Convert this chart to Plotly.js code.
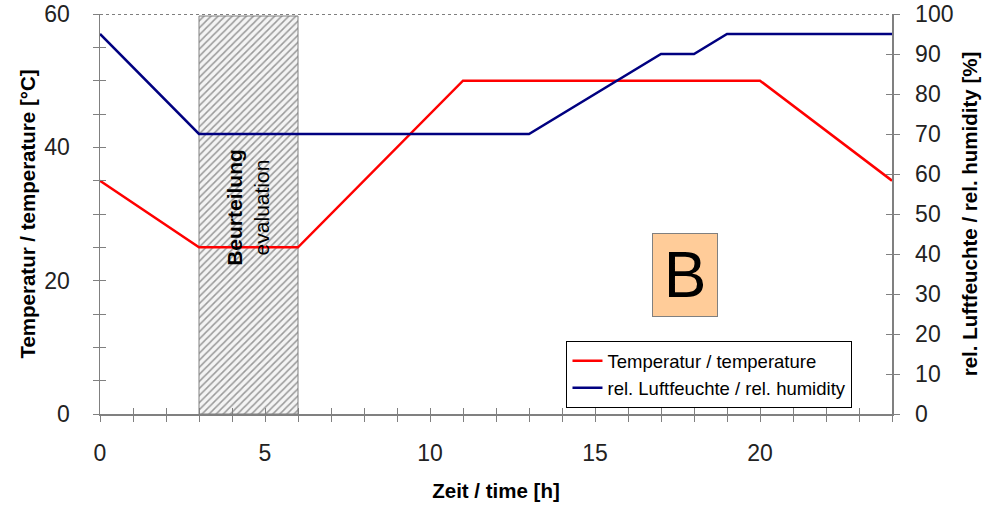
<!DOCTYPE html>
<html><head><meta charset="utf-8">
<script src="https://cdn.plot.ly/plotly-3.0.1.min.js"></script>
<style>body{margin:0;background:#fff}#c{width:994px;height:509px}</style>
</head><body><div id="c"></div>
<script>
const timeTemp = [0, 3, 6, 11, 20, 24];
const temperature = [35, 25, 25, 50, 50, 35];
const timeHum = [0, 3, 13, 17, 18, 19, 24];
const humidity = [95, 70, 70, 90, 90, 95, 95];
const evalStart = 3, evalEnd = 6, evalTop = 59.7;
const labelTemp = 'Temperatur / temperature';
const labelHum = 'rel. Luftfeuchte / rel. humidity';
const panelLabel = 'B';

const axCol = '#808080';
const FF = 'Arial, Liberation Sans, sans-serif';
const fnt = {family: FF, size: 23, color: '#222'};
const tfnt = {family: FF, size: 20.5, color: '#000'};

const traces = [
  {type: 'bar', x: [(evalStart + evalEnd) / 2], y: [evalTop], width: [evalEnd - evalStart],
   marker: {color: '#ffffff', line: {color: '#808080', width: 1},
            pattern: {shape: '/', fgcolor: '#9a9a9a', bgcolor: '#f4f4f4', size: 5, solidity: 0.3}},
   showlegend: false, hoverinfo: 'skip'},
  {type: 'scatter', mode: 'lines', x: timeTemp, y: temperature, name: labelTemp,
   line: {color: '#ff0000', width: 2.5}},
  {type: 'scatter', mode: 'lines', x: timeHum, y: humidity, name: labelHum, yaxis: 'y2',
   line: {color: '#000080', width: 2.5}},
  {type: 'scatter', mode: 'lines', x: [null], y: [null], xaxis: 'x2', yaxis: 'y3', showlegend: false, hoverinfo: 'skip'},
  {type: 'scatter', mode: 'lines', x: [null], y: [null], xaxis: 'x2', yaxis: 'y4', showlegend: false, hoverinfo: 'skip'}
];

const layout = {
  width: 994, height: 509,
  margin: {l: 100, r: 102, t: 14, b: 95},
  paper_bgcolor: '#fff', plot_bgcolor: 'rgba(0,0,0,0)',
  font: fnt,
  showlegend: true,
  legend: {x: 0.589, y: 0.182, xanchor: 'left', yanchor: 'top', bgcolor: '#fff',
           bordercolor: '#000', borderwidth: 1, font: {family: FF, size: 18.5, color: '#000'},
           tracegroupgap: 0, itemwidth: 30},
  xaxis: {range: [0, 24], dtick: 5, tick0: 0, ticks: 'outside', ticklen: 6, tickcolor: axCol,
          showline: true, linecolor: axCol, linewidth: 1.5, showgrid: false, zeroline: false,
          minor: {dtick: 1, ticks: 'outside', ticklen: 6, tickcolor: axCol},
          tickfont: fnt, ticklabelstandoff: 12,
          title: {text: '<b>Zeit / time [h]</b>', font: {family: FF, size: 20.5, color: '#000'}, standoff: 18}},
  xaxis2: {range: [0, 24], overlaying: 'x', anchor: 'y3', side: 'bottom', dtick: 1, ticks: 'inside', ticklen: 6,
           tickcolor: axCol, showticklabels: false, showgrid: false, zeroline: false, showline: false},
  yaxis: {range: [0, 60], dtick: 20, ticks: 'outside', ticklen: 6, tickcolor: axCol,
          showline: true, linecolor: axCol, linewidth: 1.5, showgrid: false, zeroline: false,
          minor: {dtick: 5, ticks: 'outside', ticklen: 6, tickcolor: axCol},
          tickfont: fnt, ticklabelstandoff: 18,
          title: {text: '<b>Temperatur / temperature [°C]</b>', font: tfnt, standoff: 3}},
  yaxis3: {range: [0, 60], overlaying: 'y', side: 'left', anchor: 'x2', dtick: 5, ticks: 'inside', ticklen: 6,
           tickcolor: axCol, showticklabels: false, showgrid: false, zeroline: false, showline: false},
  yaxis2: {range: [0, 100], overlaying: 'y', side: 'right', anchor: 'x', dtick: 10, ticks: 'outside', ticklen: 6,
           tickcolor: axCol, showline: true, linecolor: axCol, linewidth: 1.5, showgrid: false, zeroline: false,
           tickfont: fnt, ticklabelstandoff: 11,
           title: {text: '<b>rel. Luftfeuchte / rel. humidity [%]</b>', font: tfnt, standoff: 10}},
  yaxis4: {range: [0, 100], overlaying: 'y', side: 'right', anchor: 'x2', dtick: 10, ticks: 'inside', ticklen: 6,
           tickcolor: axCol, showticklabels: false, showgrid: false, zeroline: false, showline: false},
  shapes: [
    {type: 'line', xref: 'paper', yref: 'y', x0: 0, x1: 1, y0: 60, y1: 60,
     line: {color: '#555', width: 1.3, dash: 'dot'}}
  ],
  annotations: [
    {x: (evalStart + evalEnd) / 2, y: 31, xref: 'x', yref: 'y', showarrow: false, textangle: -90,
     text: '<b>Beurteilung</b><br>evaluation', font: {family: FF, size: 21, color: '#000'}},
    {x: 17.73, y: 20.8, xref: 'x', yref: 'y', showarrow: false, text: panelLabel,
     font: {family: FF, size: 64, color: '#000'},
     bgcolor: '#ffcc99', bordercolor: '#808080', borderwidth: 1, width: 62, height: 80, borderpad: 1}
  ]
};
Plotly.newPlot('c', traces, layout, {displayModeBar: false, staticPlot: true});
</script></body></html>
